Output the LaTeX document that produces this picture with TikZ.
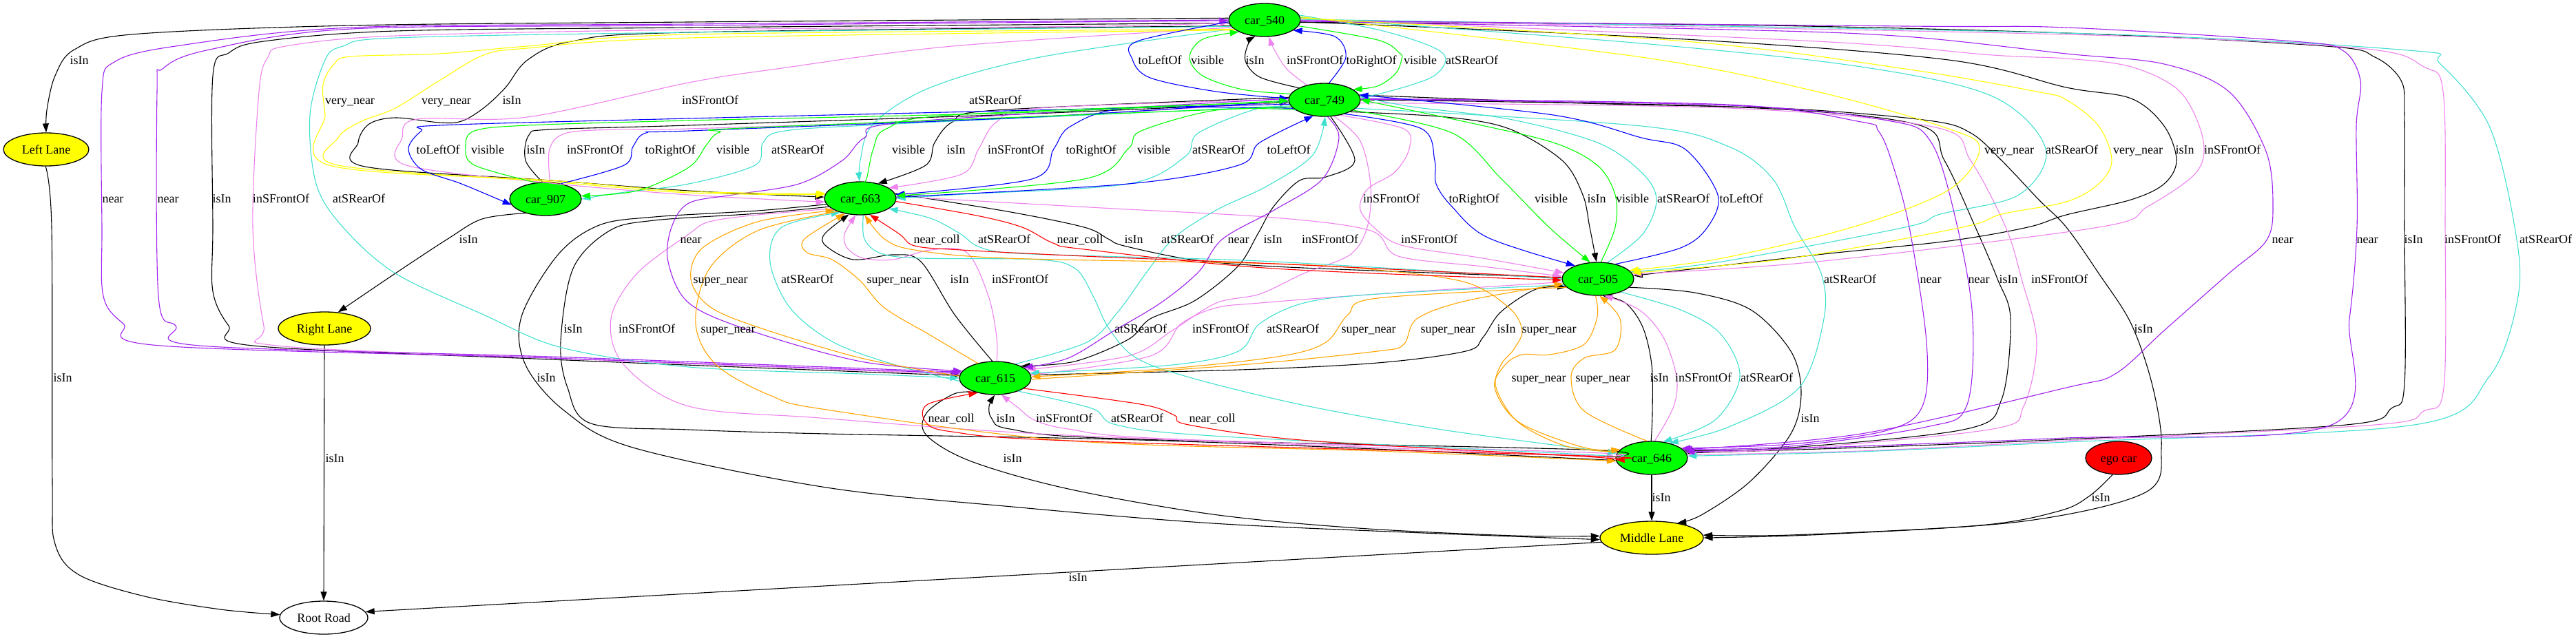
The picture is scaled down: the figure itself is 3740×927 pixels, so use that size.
\documentclass[tikz,border=0pt]{standalone}
\usepackage{fontspec}
\setmainfont{Liberation Serif}
\usetikzlibrary{shapes.geometric,arrows.meta}
\definecolor{cPur}{HTML}{A020F0}
\definecolor{cVio}{HTML}{EE82EE}
\definecolor{cTur}{HTML}{40E0D0}
\definecolor{cOra}{HTML}{FFA500}
\definecolor{cGrn}{HTML}{00FF00}
\definecolor{cYel}{HTML}{FFFF00}
\definecolor{cRed}{HTML}{FF0000}
\definecolor{cBlu}{HTML}{0000FF}
\newcommand{\gfont}{\fontsize{18}{20}\selectfont}
\newcommand{\edg}[2]{\draw[ed,#1] plot[smooth,tension=0.55] coordinates {#2};}
\newcommand{\elab}[3]{\node[lab] (#1) at (#2) {#3};}
\tikzset{
  ed/.style={line width=1.1pt,-{Triangle[length=13pt,width=9pt]}},
  lab/.style={font=\gfont,inner sep=0pt,text height=12pt,text depth=0pt},
  gnode/.style={ellipse,draw=black,line width=1.3pt,inner sep=0pt,minimum height=48pt,font=\gfont,text height=12pt,text depth=0pt},
  car/.style={gnode,fill=cGrn,minimum width=104pt},
  egocar/.style={gnode,fill=cRed,minimum width=96pt},
  lane/.style={gnode,fill=cYel},
  road/.style={gnode,fill=white,minimum width=128pt}
}
\begin{document}
\begin{tikzpicture}[x=1pt,y=-1pt]
\fill[white] (0,0) rectangle (3740,927);
\useasboundingbox (0,0) rectangle (3740,927);
% nodes
\node[car] (c540) at (1836,29) {car\_540};
\node[car] (c749) at (1923,145) {car\_749};
\node[car] (c663) at (1249,288) {car\_663};
\node[car] (c907) at (792,289) {car\_907};
\node[car] (c505) at (2320,405) {car\_505};
\node[car] (c615) at (1445,549) {car\_615};
\node[car] (c646) at (2398,665) {car\_646};
\node[egocar] (ego) at (3076,665) {ego car};
\node[lane,minimum width=124pt] (LL) at (67,217) {Left Lane};
\node[lane,minimum width=134pt] (RL) at (471,477) {Right Lane};
\node[lane,minimum width=150pt] (ML) at (2398,781) {Middle Lane};
\node[road] (RR) at (470,897) {Root Road};
% black edges
\edg{black}{(LL.268) (75,330) (76,700) (80,790) (115,835) (210,866) (320,885) (RR.176)}
\edg{black}{(RL.south) (RR.north)}
\edg{black}{(ML.185) (RR.8)}
\edg{black}{(c646.south) (ML.north)}
\edg{black}{(ego.250) (3034,720) (2990,742) (2874,763) (2600,777) (ML.3)}
\edg{black}{(c749.8) (2300,150) (2600,158) (2800,175) (2861,193) (2906,233) (2960,290) (3000,330) (3047,397) (3094,470) (3125,560) (3138,650) (3115,715) (2938,757) (2650,776) (ML.0)}
\edg{black}{(c505.345) (2460,425) (2542,450) (2600,510) (2615,570) (2600,630) (2540,700) (2470,748) (ML.30)}
\edg{black}{(c615.215) (1385,572) (1345,600) (1345,632) (1410,670) (1551,710) (1761,747) (1972,767) (2200,778) (ML.178)}
\edg{black}{(c663.190) (1100,306) (950,315) (870,327) (810,370) (757,460) (763,530) (820,597) (919,650) (1200,708) (1481,737) (1761,760) (2042,773) (ML.182)}
\edg{black}{(c663.195) (1100,310) (950,320) (885,335) (832,390) (814,497) (824,563) (858,615) (1000,624) (1200,630) (1621,638) (1972,651) (c646.184)}
\edg{black}{(c540.177) (1000,32) (510,37) (191,50) (108,72) (80,110) (68,160) (LL.north)}
\edg{black}{(c749.155) (1829,112) (1808,88) (1813,62) (c540.240)}
\edg{black}{(c907.100) (763,233) (768,196) (800,188) (1000,182) (1500,165) (c749.184)}
\edg{black}{(c749.176) (1446,160) (1383,177) (1357,207) (1344,240) (c663.40)}
\edg{black}{(c540.190) (1000,47) (830,60) (766,87) (734,127) (702,157) (670,176) (638,178) (574,171) (536,180) (520,207) (530,242) (800,262) (1000,277) (c663.178)}
\edg{black}{(c540.185) (1000,40) (574,45) (383,60) (332,77) (309,110) (309,330) (309,423) (332,473) (367,502) (800,522) (1200,538) (c615.176)}
\edg{black}{(c749.335) (2100,170) (2191,187) (2268,233) (2298,283) (2308,330) (c505.95)}
\edg{black}{(c907.215) (700,318) (650,347) (574,397) (RL.50)}
\edg{black}{(c663.8) (1462,307) (1574,330) (1609,347) (1632,357) (1730,377) (1850,387) (2100,397) (c505.178)}
\edg{black}{(c749.290) (1967,233) (1925,257) (1887,262) (1849,300) (1826,340) (1797,387) (1734,437) (1670,463) (1638,493) (1560,525) (c615.25)}
\edg{black}{(c540.356) (2500,36) (3000,48) (3377,67) (3448,83) (3486,117) (3491,167) (3491,330) (3491,557) (3472,593) (3406,617) (3000,638) (2700,650) (c646.8)}
\edg{black}{(c615.100) (1386,457) (1337,380) (1297,370) (1239,377) (1199,357) (1197,340) (c663.235)}
\edg{black}{(c749.0) (2510,155) (2780,180) (2823,233) (2868,330) (2900,405) (2919,463) (2906,580) (2855,623) (2600,650) (c646.12)}
\edg{black}{(c615.5) (1800,537) (2000,527) (2128,510) (2153,490) (2179,453) (2230,420) (c505.195)}
\edg{black}{(c646.92) (2399,600) (2398,530) (2385,475) (2360,440) (c505.285)}
\edg{black}{(c646.178) (2300,653) (1621,637) (1466,623) (1440,608) (1436,590) (c615.268)}
\edg{black}{(c540.357) (2447,57) (2829,87) (3000,127) (3094,143) (3142,183) (3160,233) (3142,267) (3094,290) (3000,312) (2944,330) (2829,350) (2638,370) (c505.5)}
% violet
\edg{cVio}{(c749.140) (1868,100) (1849,70) (c540.285)}
\edg{cVio}{(c907.75) (798,216) (823,193) (900,188) (1000,187) (1500,170) (c749.183)}
\edg{cVio}{(c749.179) (1510,157) (1447,177) (1421,216) (1396,253) (c663.20)}
\edg{cVio}{(c540.193) (1383,67) (1128,100) (1000,120) (766,170) (606,173) (584,200) (590,240) (800,266) (1000,283) (c663.186)}
\edg{cVio}{(c615.174) (1200,536) (800,520) (402,502) (383,473) (367,330) (376,133) (389,83) (415,67) (574,52) (1000,43) (1600,38) (c540.184)}
\edg{cVio}{(c749.315) (2038,187) (2046,216) (2025,250) (1985,275) (1975,305) (2000,335) (2038,357) (2153,375) (c505.170)}
\edg{cVio}{(c749.300) (1975,205) (1990,270) (1985,330) (1960,370) (1893,397) (1829,427) (1766,440) (1702,480) (1638,517) (c615.15)}
\edg{cVio}{(c663.3) (1600,302) (1850,316) (1990,335) (2030,372) (2153,387) (c505.176)}
\edg{cVio}{(c540.2) (2638,60) (2893,80) (3000,85) (3094,97) (3165,133) (3198,200) (3189,250) (3118,300) (3047,330) (2638,380) (c505.8)}
\edg{cVio}{(c540.0) (3000,50) (3425,70) (3519,97) (3547,133) (3550,330) (3548,563) (3519,597) (3448,617) (3000,640) (2700,655) (c646.5)}
\edg{cVio}{(c749.355) (2510,157) (2810,185) (2861,233) (2912,330) (2935,405) (2957,497) (2938,590) (2893,623) (2600,652) (c646.10)}
\edg{cVio}{(c615.85) (1447,490) (1435,430) (1404,367) (1351,363) (1297,377) (1253,375) (1230,360) (1226,340) (c663.255)}
\edg{cVio}{(c663.200) (1100,312) (1030,322) (1000,340) (925,397) (887,463) (906,530) (1000,590) (1191,607) (1510,630) (2000,650) (c646.178)}
\edg{cVio}{(c505.185) (2000,427) (1829,440) (1766,447) (1715,470) (1670,517) (c615.5)}
\edg{cVio}{(c646.80) (2430,590) (2434,547) (2415,490) (2380,450) (c505.290)}
\edg{cVio}{(c646.176) (2300,657) (1691,637) (1551,623) (1502,610) (1478,592) (c615.290)}
% turquoise
\edg{cTur}{(c540.8) (2000,43) (2077,67) (2099,86) (2077,113) (2000,137) (c749.8)}
\edg{cTur}{(c749.190) (1300,180) (1140,190) (1108,207) (1096,240) (1000,267) (900,280) (c907.0)}
\edg{cTur}{(c749.200) (1829,157) (1740,193) (1721,227) (1638,267) (1400,282) (c663.0)}
\edg{cTur}{(c540.196) (1510,83) (1351,127) (1268,180) (1249,233) (c663.92)}
\edg{cTur}{(c540.4) (2383,63) (2702,97) (2893,140) (2970,216) (2931,283) (2817,311) (2766,330) (2500,380) (c505.12)}
\edg{cTur}{(c540.1) (3000,48) (3496,73) (3543,93) (3614,183) (3651,330) (3656,430) (3614,547) (3505,617) (3000,642) (2700,656) (c646.3)}
\edg{cTur}{(c749.345) (2383,183) (2510,213) (2574,260) (2606,330) (2644,397) (2648,463) (2612,563) (2510,620) (c646.40)}
\edg{cTur}{(c505.60) (2385,340) (2405,290) (2383,250) (2319,207) (2191,173) (2050,155) (c749.5)}
\edg{cTur}{(c540.191) (1000,47) (574,55) (498,67) (472,87) (450,167) (459,267) (498,330) (574,397) (702,457) (816,505) (1000,533) (1250,543) (c615.180)}
\edg{cTur}{(c505.180) (1850,380) (1596,372) (1462,367) (1418,357) (1395,340) (1351,317) (c663.340)}
\edg{cTur}{(c615.35) (1578,497) (1623,453) (1665,395) (1705,345) (1766,305) (1840,270) (1906,225) (c749.272)}
\edg{cTur}{(c663.280) (1255,347) (1279,368) (1337,375) (1507,377) (1561,390) (1587,430) (1610,477) (1650,520) (1734,550) (1900,590) (2100,625) (c646.172)}
\edg{cTur}{(c505.190) (2000,427) (1893,440) (1829,470) (1798,510) (1702,530) (c615.8)}
\edg{cTur}{(c505.330) (2440,450) (2498,485) (2526,547) (2490,610) (c646.55)}
\edg{cTur}{(c615.185) (1300,530) (1210,497) (1147,447) (1118,380) (1135,330) (c663.215)}
\edg{cTur}{(c615.330) (1585,593) (1621,617) (1761,633) (2300,660) (c646.180)}
% purple
\edg{cPur}{(c540.180) (1000,35) (510,40) (255,67) (166,90) (148,133) (148,330) (150,430) (179,470) (233,502) (800,520) (1200,535) (c615.172)}
\edg{cPur}{(c615.170) (1200,533) (800,518) (290,502) (255,473) (230,430) (228,133) (236,100) (300,73) (510,42) (1000,37) (c540.181)}
\edg{cPur}{(c749.178) (1319,177) (1255,200) (1223,233) (1160,267) (1064,283) (1000,295) (975,330) (970,380) (1000,440) (1089,480) (1250,525) (c615.168)}
\edg{cPur}{(c749.280) (1944,200) (1920,260) (1850,305) (1775,347) (1740,395) (1685,440) (1618,480) (1551,520) (c615.20)}
\edg{cPur}{(c540.358) (2510,43) (2766,53) (3000,78) (3142,93) (3236,133) (3290,220) (3300,300) (3290,350) (3236,397) (3142,480) (3071,543) (3000,563) (2702,630) (c646.15)}
\edg{cPur}{(c540.359) (2766,38) (3000,40) (3330,60) (3401,73) (3427,117) (3421,183) (3422,330) (3411,463) (3385,617) (3000,636) (2700,648) (c646.10)}
\edg{cPur}{(c749.2) (2510,152) (2702,177) (2727,190) (2746,233) (2772,330) (2797,497) (2791,590) (2740,625) (2600,645) (c646.18)}
\edg{cPur}{(c749.1) (2510,153) (2740,175) (2804,207) (2842,330) (2864,463) (2855,590) (2797,620) (2600,648) (c646.15)}
% yellow
\edg{cYel}{(c540.197) (1000,50) (766,67) (638,78) (510,82) (485,93) (469,123) (472,167) (478,240) (800,262) (1000,278) (c663.172)}
\edg{cYel}{(c540.199) (1000,55) (766,70) (702,80) (638,117) (574,157) (523,177) (491,200) (491,240) (800,264) (1000,280) (c663.174)}
\edg{cYel}{(c540.5) (2383,83) (2638,133) (2829,187) (2874,216) (2829,276) (2689,330) (2500,375) (c505.15)}
\edg{cYel}{(c540.3) (2447,60) (2766,100) (2957,133) (3000,145) (3047,183) (3066,233) (3047,267) (3000,293) (2906,311) (2849,330) (2600,375) (c505.10)}
% orange
\edg{cOra}{(c615.140) (1351,487) (1284,447) (1248,407) (1208,377) (1172,367) (1168,347) (c663.225)}
\edg{cOra}{(c615.177) (1250,520) (1100,475) (1030,445) (1003,405) (1020,360) (1100,322) (c663.205)}
\edg{cOra}{(c663.210) (1100,335) (1030,390) (1010,470) (1040,530) (1120,575) (1200,595) (1551,640) (2000,655) (c646.185)}
\edg{cOra}{(c505.195) (2000,433) (1957,457) (1925,497) (1861,517) (1700,535) (c615.2)}
\edg{cOra}{(c615.358) (1800,530) (2000,510) (2038,500) (2057,463) (2128,437) (c505.188)}
\edg{cOra}{(c646.170) (2274,648) (2204,613) (2172,563) (2179,530) (2198,507) (2210,480) (2191,447) (2128,410) (2000,392) (1850,383) (1462,375) (1328,363) (1284,347) (c663.285)}
\edg{cOra}{(c505.262) (2319,460) (2300,500) (2250,515) (2210,515) (2185,530) (2170,563) (2205,613) (2300,650) (c646.165)}
\edg{cOra}{(c646.105) (2300,597) (2281,547) (2300,520) (2345,508) (2352,463) (c505.275)}
% red
\edg{cRed}{(c505.178) (1850,383) (1596,373) (1395,363) (1328,357) (1306,340) (c663.300)}
\edg{cRed}{(c663.355) (1418,313) (1484,330) (1529,353) (1574,362) (1850,390) (c505.182)}
\edg{cRed}{(c646.181) (2300,662) (1551,640) (1382,627) (1344,613) (1347,587) (c615.220)}
\edg{cRed}{(c615.340) (1656,587) (1705,603) (1726,617) (1901,640) (2300,663) (c646.183)}
% blue
\edg{cBlu}{(c540.183) (1651,60) (1644,86) (1670,113) (1766,133) (c749.178)}
\edg{cBlu}{(c749.75) (1954,83) (1938,53) (c540.340)}
\edg{cBlu}{(c749.187) (1000,172) (638,182) (612,190) (593,216) (612,246) (670,267) (c907.190)}
\edg{cBlu}{(c907.45) (906,240) (919,213) (938,193) (1000,190) (1500,170) (c749.182)}
\edg{cBlu}{(c749.195) (1638,157) (1555,183) (1530,216) (1498,260) (c663.6)}
\edg{cBlu}{(c663.2) (1638,267) (1798,240) (1829,207) (c749.235)}
\edg{cBlu}{(c749.325) (2064,187) (2083,233) (2085,267) (2108,300) (2160,345) (c505.150)}
\edg{cBlu}{(c505.40) (2440,360) (2479,330) (2494,283) (2447,217) (2383,200) (2255,167) (c749.8)}
% green
\edg{cGrn}{(c749.170) (1804,130) (1746,110) (1727,83) (1746,57) (c540.205)}
\edg{cGrn}{(c540.350) (2000,58) (2032,77) (2035,86) (2026,107) (2000,125) (c749.20)}
\edg{cGrn}{(c907.120) (689,240) (676,213) (689,190) (766,182) (1000,175) (1500,163) (c749.181)}
\edg{cGrn}{(c749.192) (1100,185) (1045,192) (1026,210) (1000,243) (925,277) (c907.5)}
\edg{cGrn}{(c749.183) (1383,167) (1287,187) (1268,216) (1258,260) (c663.85)}
\edg{cGrn}{(c749.198) (1766,160) (1657,190) (1638,216) (1574,260) (c663.4)}
\edg{cGrn}{(c749.340) (2108,193) (2180,260) (2249,330) (c505.115)}
\edg{cGrn}{(c505.80) (2345,330) (2345,283) (2319,240) (2255,207) (2128,177) (c749.0)}
% labels row 87
\elab{l1}{115,87}{isIn}
\elab{l2}{1684,87}{toLeftOf}
\elab{l3}{1753,87}{visible}
\elab{l4}{1822,87}{isIn}
\elab{l5}{1909,87}{inSFrontOf}
\elab{l6}{1991,87}{toRightOf}
\elab{l7}{2062,87}{visible}
\elab{l8}{2137,87}{atSRearOf}
% row 145
\elab{l9}{508,145}{very\_near}
\elab{l10}{648,145}{very\_near}
\elab{l11}{743,145}{isIn}
\elab{l12}{1031,145}{inSFrontOf}
\elab{l13}{1445,145}{atSRearOf}
% row 217
\elab{l14}{636,217}{toLeftOf}
\elab{l15}{708,217}{visible}
\elab{l16}{778,217}{isIn}
\elab{l17}{864,217}{inSFrontOf}
\elab{l18}{973,217}{toRightOf}
\elab{l19}{1064,217}{visible}
\elab{l20}{1158,217}{atSRearOf}
\elab{l21}{1319,217}{visible}
\elab{l22}{1388,217}{isIn}
\elab{l23}{1475,217}{inSFrontOf}
\elab{l24}{1584,217}{toRightOf}
\elab{l25}{1675,217}{visible}
\elab{l26}{1769,217}{atSRearOf}
\elab{l27}{1871,217}{toLeftOf}
\elab{l28}{2917,217}{very\_near}
\elab{l29}{3008,217}{atSRearOf}
\elab{l30}{3104,217}{very\_near}
\elab{l31}{3172,217}{isIn}
\elab{l32}{3241,217}{inSFrontOf}
% row 288
\elab{l33}{164,288}{near}
\elab{l34}{244,288}{near}
\elab{l35}{322,288}{isIn}
\elab{l36}{408,288}{inSFrontOf}
\elab{l37}{521,288}{atSRearOf}
\elab{l38}{2020,288}{inSFrontOf}
\elab{l39}{2140,288}{toRightOf}
\elab{l40}{2252,288}{visible}
\elab{l41}{2318,288}{isIn}
\elab{l42}{2370,288}{visible}
\elab{l43}{2444,288}{atSRearOf}
\elab{l44}{2528,288}{toLeftOf}
% row 347
\elab{l45}{680,347}{isIn}
\elab{l46}{1003,347}{near}
\elab{l47}{1360,347}{near\_coll}
\elab{l48}{1458,347}{atSRearOf}
\elab{l49}{1568,347}{near\_coll}
\elab{l50}{1646,347}{isIn}
\elab{l51}{1724,347}{atSRearOf}
\elab{l52}{1798,347}{near}
\elab{l53}{1848,347}{isIn}
\elab{l54}{1931,347}{inSFrontOf}
\elab{l55}{2075,347}{inSFrontOf}
\elab{l56}{3314,347}{near}
\elab{l57}{3437,347}{near}
\elab{l58}{3504,347}{isIn}
\elab{l59}{3590,347}{inSFrontOf}
\elab{l60}{3696,347}{atSRearOf}
% row 405
\elab{l61}{1046,405}{super\_near}
\elab{l62}{1172,405}{atSRearOf}
\elab{l63}{1298,405}{super\_near}
\elab{l64}{1393,405}{isIn}
\elab{l65}{1481,405}{inSFrontOf}
\elab{l66}{2686,405}{atSRearOf}
\elab{l67}{2803,405}{near}
\elab{l68}{2873,405}{near}
\elab{l69}{2916,405}{isIn}
\elab{l70}{2990,405}{inSFrontOf}
% row 477
\elab{l71}{832,477}{isIn}
\elab{l72}{939,477}{inSFrontOf}
\elab{l73}{1057,477}{super\_near}
\elab{l74}{1656,477}{atSRearOf}
\elab{l75}{1772,477}{inSFrontOf}
\elab{l76}{1877,477}{atSRearOf}
\elab{l77}{1987,477}{super\_near}
\elab{l78}{2102,477}{super\_near}
\elab{l79}{2187,477}{isIn}
\elab{l80}{2249,477}{super\_near}
\elab{l81}{3112,477}{isIn}
% row 548
\elab{l82}{91,548}{isIn}
\elab{l83}{793,548}{isIn}
\elab{l84}{2234,548}{super\_near}
\elab{l85}{2327,548}{super\_near}
\elab{l86}{2409,548}{isIn}
\elab{l87}{2473,548}{inSFrontOf}
\elab{l88}{2565,548}{atSRearOf}
% row 607
\elab{l89}{1381,607}{near\_coll}
\elab{l90}{1460,607}{isIn}
\elab{l91}{1545,607}{inSFrontOf}
\elab{l92}{1651,607}{atSRearOf}
\elab{l93}{1760,607}{near\_coll}
\elab{l94}{2628,607}{isIn}
% lower
\elab{l95}{486,665}{isIn}
\elab{l96}{1470,665}{isIn}
\elab{l97}{2412,722}{isIn}
\elab{l98}{3050,722}{isIn}
\elab{l99}{1565,838}{isIn}
\end{tikzpicture}
\end{document}
